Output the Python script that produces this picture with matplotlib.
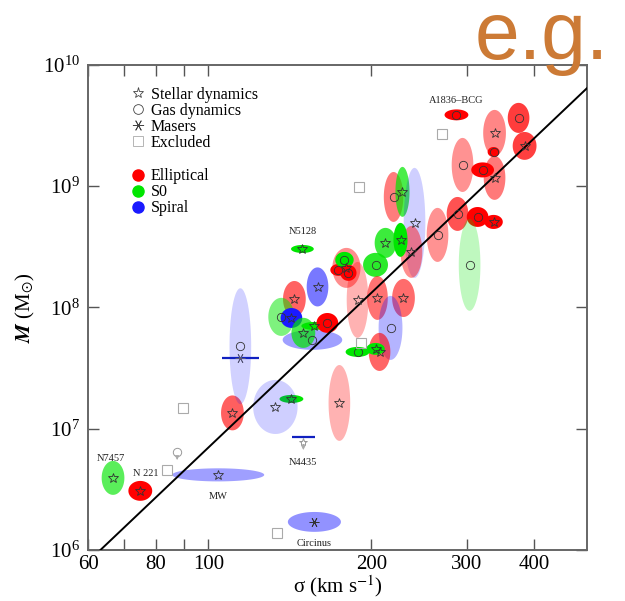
import numpy as np
import matplotlib
matplotlib.use("Agg")
import matplotlib.pyplot as plt
from matplotlib.lines import Line2D
from matplotlib.ticker import FixedLocator, FixedFormatter, NullLocator, LogFormatterMathtext

plt.rcParams.update({
    "font.family": "serif",
    "font.serif": ["Liberation Serif", "DejaVu Serif"],
    "mathtext.fontset": "stix",
    "font.size": 15,
})

# galaxies: sigma (km/s), log M, error in log sigma, error in log M, host type, method
sigma = [66.7, 74.9, 104.3, 157.0, 174.6, 142.4, 133.0, 110.8, 114.6, 144.2,
         159.1, 136.4, 142.4, 155.7, 149.8, 157.0, 165.9, 149.2, 179.9, 173.9,
         178.4, 181.4, 203.6, 212.4, 188.6, 205.3, 229.3, 217.0, 207.1, 188.6,
         203.6, 219.8, 228.3, 240.3, 237.2, 226.4, 287.2, 294.7, 374.0, 337.7,
         336.3, 383.7, 321.0, 337.7, 288.5, 314.2, 336.3, 303.7, 265.0]
logM = [6.594, 6.487, 6.619, 6.231, 7.212, 7.245, 7.179, 7.130, 7.68, 8.070,
        8.169, 7.922, 7.913, 7.732, 7.790, 7.847, 7.872, 8.482, 8.326, 8.309,
        8.392, 8.285, 8.351, 8.532, 8.062, 8.078, 8.078, 7.831, 7.633, 7.633,
        7.658, 8.911, 8.953, 8.697, 8.458, 8.557, 9.588, 9.175, 9.563, 9.439,
        9.282, 9.332, 9.134, 9.068, 8.771, 8.746, 8.705, 8.351, 8.598]
err_sig = [0.021, 0.022, 0.085, 0.049, 0.020, 0.022, 0.041, 0.021, 0.020, 0.021,
           0.020, 0.024, 0.020, 0.055, 0.022, 0.024, 0.020, 0.021, 0.026, 0.015,
           0.017, 0.015, 0.023, 0.020, 0.020, 0.019, 0.021, 0.022, 0.020, 0.022,
           0.017, 0.018, 0.013, 0.020, 0.020, 0.013, 0.022, 0.020, 0.020, 0.021,
           0.011, 0.022, 0.021, 0.020, 0.020, 0.020, 0.017, 0.020, 0.020]
err_M = [0.140, 0.082, 0.054, 0.082, 0.313, 0.033, 0.223, 0.144, 0.478, 0.148,
         0.161, 0.157, 0.082, 0.082, 0.124, 0.033, 0.082, 0.033, 0.165, 0.049,
         0.066, 0.066, 0.099, 0.124, 0.313, 0.181, 0.157, 0.264, 0.157, 0.041,
         0.049, 0.206, 0.206, 0.454, 0.214, 0.140, 0.045, 0.223, 0.124, 0.190,
         0.041, 0.115, 0.062, 0.181, 0.140, 0.082, 0.058, 0.379, 0.223]
htype = ["S0", "E", "S", "S", "E", "S0", "S", "E", "S", "E",
         "S", "S0", "S", "S", "S0", "S0", "E", "S0", "E", "E",
         "S0", "E", "S0", "S0", "E", "E", "E", "S", "E", "S0",
         "S0", "E", "S0", "S", "E", "S0", "E", "E", "E", "E",
         "E", "E", "E", "E", "E", "E", "E", "S0", "E"]
method = ["star", "star", "star", "maser", "star", "star", "star", "star", "gas", "star",
          "star", "gas", "star", "gas", "star", "star", "gas", "star", "star", "gas",
          "gas", "gas", "gas", "star", "star", "star", "star", "gas", "star", "gas",
          "star", "gas", "star", "star", "star", "star", "gas", "gas", "gas", "star",
          "gas", "star", "gas", "star", "gas", "gas", "star", "gas", "gas"]

# excluded objects
excl_sigma = [84.0, 134.1, 89.9, 189.4, 269.6, 191.0]
excl_logM = [6.660, 6.140, 7.171, 8.994, 9.431, 7.707]

# upper limits
ul_sigma = [87.6, 149.8]
ul_logM = [6.808, 6.891]
ul_method = ["gas", "star"]

# masers with tiny mass errors (sigma range bars)
bar_sigma = [114.6, 150.0]
bar_logM = [7.584, 6.932]
bar_err = [0.034, 0.021]

# labelled galaxies
names = ["A1836\u2013BCG", "N5128", "N7457", "N 221", "MW", "N4435", "Circinus"]
name_sigma = [287.2, 149.2, 66.2, 76.5, 104.3, 149.8, 157.0]
name_logM = [9.71, 8.63, 6.75, 6.63, 6.44, 6.72, 6.05]

# fit: log M = 8.12 + 4.24 log(sigma/200)
fit_sigma = np.array([60.0, 500.0])
fit_M = 10 ** (8.12 + 4.24 * np.log10(fit_sigma / 200.0))

colors = {"E": (1.0, 0.0, 0.0), "S0": (0.0, 0.9, 0.0), "S": (0.1, 0.1, 1.0)}
markers = {"star": "*", "gas": "o", "maser": (6, 2, 90)}

fig = plt.figure(figsize=(6.25, 6.01), dpi=100)
ax = fig.add_axes([0.141, 0.085, 0.798, 0.807])
ax.set_xscale("log")
ax.set_yscale("log")

t = np.linspace(0, 2 * np.pi, 90)
for s, m, es, em, ty in zip(sigma, logM, err_sig, err_M, htype):
    a = float(np.clip(0.0019 / (es * em), 0.2, 1.0))
    xs = 10 ** (np.log10(s) + es * np.cos(t))
    ys = 10 ** (m + em * np.sin(t))
    ax.fill(xs, ys, color=colors[ty], alpha=a, lw=0, zorder=2)

for s, m, me in zip(sigma, logM, method):
    ax.plot(s, 10 ** m, marker=markers[me], ms=7 if me != "gas" else 6,
            mfc="none", mec="#333333", mew=0.6, ls="none", zorder=4)

ax.plot(excl_sigma, 10 ** np.array(excl_logM), "s", ms=7, mfc="none",
        mec="#aaaaaa", mew=0.8, ls="none", zorder=4)

for s, m, me in zip(ul_sigma, ul_logM, ul_method):
    ax.plot(s, 10 ** m, marker=markers[me], ms=6, mfc="none", mec="#999999",
            mew=0.7, ls="none", zorder=4)
    ax.annotate("", xy=(s, 10 ** (m - 0.09)), xytext=(s, 10 ** (m - 0.01)),
                arrowprops=dict(arrowstyle="-|>", color="#aaaaaa", lw=0.7,
                                mutation_scale=6), zorder=4)

for s, m, e in zip(bar_sigma, bar_logM, bar_err):
    ax.hlines(10 ** m, s * 10 ** -e, s * 10 ** e, color="#1020c0", lw=1.6, zorder=5)
ax.plot(bar_sigma[0], 10 ** bar_logM[0], marker=(6, 2, 90), ms=7, mfc="none",
        mec="#555577", mew=0.6, ls="none", zorder=5)

ax.plot(fit_sigma, fit_M, color="black", lw=1.4, zorder=3)

for n, s, m in zip(names, name_sigma, name_logM):
    ax.text(s, 10 ** m, n, fontsize=7.5, ha="center", va="center", color="#222222", zorder=6)

ax.set_xlim(60, 500)
ax.set_ylim(1e6, 1e10)
ax.xaxis.set_major_locator(FixedLocator([60, 70, 80, 90, 100, 200, 300, 400]))
ax.xaxis.set_major_formatter(FixedFormatter(["60", "", "80", "", "100", "200", "300", "400"]))
ax.xaxis.set_minor_locator(NullLocator())
ax.yaxis.set_major_locator(FixedLocator([1e6, 1e7, 1e8, 1e9, 1e10]))
ax.yaxis.set_major_formatter(LogFormatterMathtext())
ax.yaxis.set_minor_locator(NullLocator())
ax.tick_params(direction="in", length=8, width=1, top=True, right=True,
               labelsize=15, color="#555555")
ax.tick_params(axis="x", pad=4)
ax.tick_params(axis="y", pad=6)
for sp in ax.spines.values():
    sp.set_color("#666666")
    sp.set_linewidth(1.4)

ax.set_xlabel("\u03c3 (km s$^{-1}$)", fontsize=15, labelpad=-1)
ax.set_ylabel(r"$\boldsymbol{M}$ (M$_{\odot}$)", fontsize=15, labelpad=4)

h1 = [Line2D([], [], marker="*", ms=8, mfc="none", mec="#444444", mew=0.6, ls="none"),
      Line2D([], [], marker="o", ms=7, mfc="none", mec="#444444", mew=0.6, ls="none"),
      Line2D([], [], marker=(6, 2, 90), ms=8, mfc="none", mec="#444444", mew=0.6, ls="none"),
      Line2D([], [], marker="s", ms=7, mfc="none", mec="#aaaaaa", mew=0.6, ls="none")]
leg1 = ax.legend(h1, ["Stellar dynamics", "Gas dynamics", "Masers", "Excluded"],
                 loc="upper left", bbox_to_anchor=(0.065, 0.978), frameon=False,
                 fontsize=11.5, handlelength=0.8, handletextpad=0.4, labelspacing=0.0,
                 borderpad=0.2)
ax.add_artist(leg1)
h2 = [Line2D([], [], marker="o", ms=8, color=colors[k], ls="none") for k in ["E", "S0", "S"]]
ax.legend(h2, ["Elliptical", "S0", "Spiral"], loc="upper left",
          bbox_to_anchor=(0.065, 0.81), frameon=False, fontsize=11.5,
          handlelength=0.8, handletextpad=0.4, labelspacing=0.0, borderpad=0.2)

fig.text(0.975, 1.0, "e.g.", ha="right", va="top", fontsize=58,
         family="Liberation Sans", color="#cc7a35", zorder=10)

fig.savefig("out.png", dpi=100)
